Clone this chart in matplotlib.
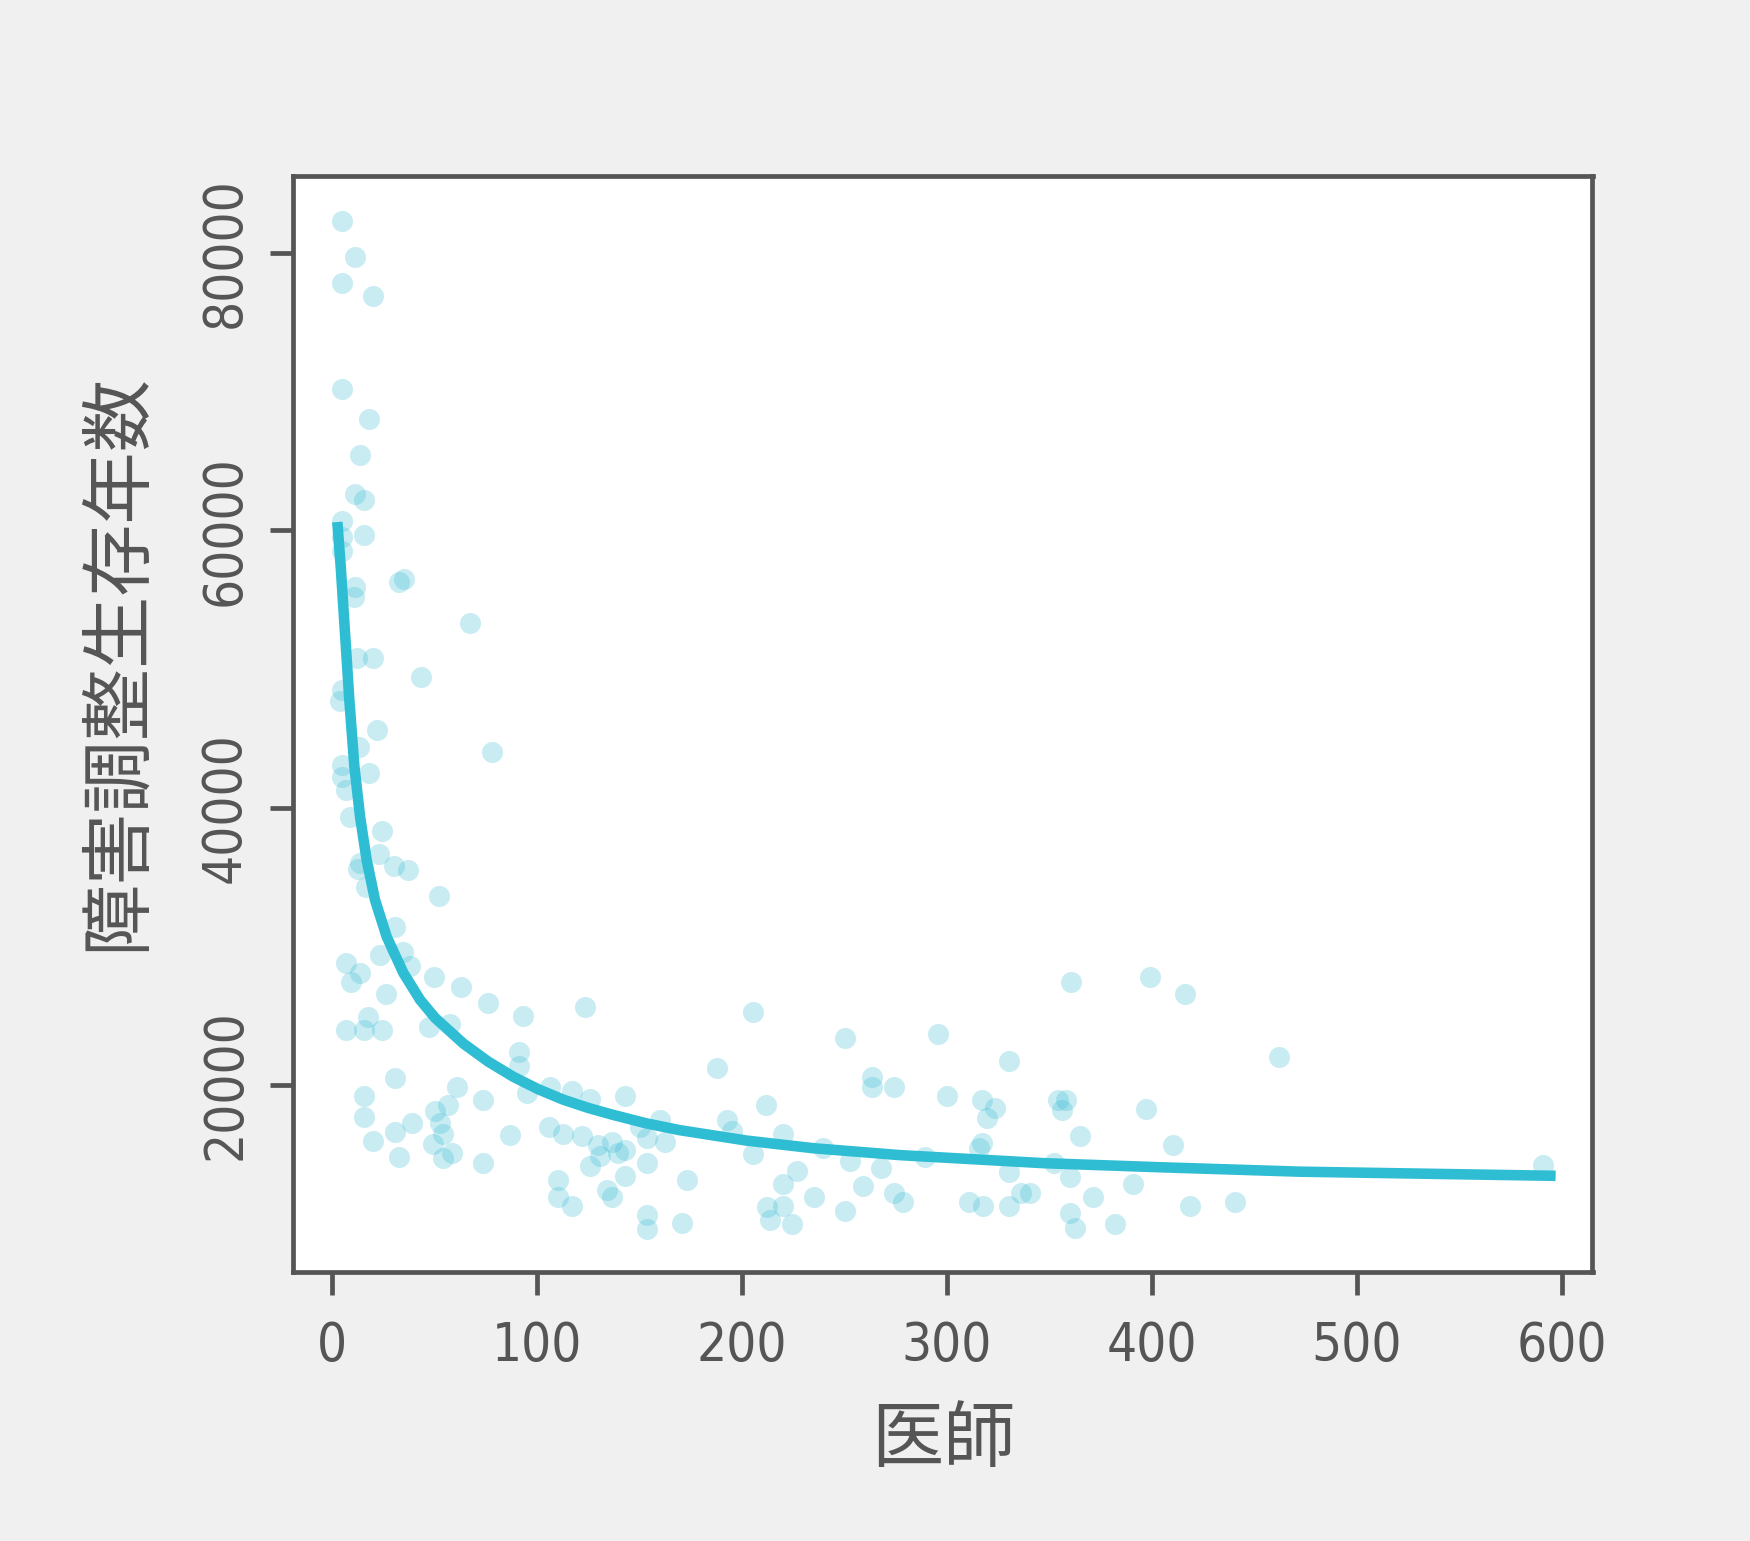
import matplotlib
matplotlib.use("Agg")
import matplotlib.pyplot as plt
from matplotlib import font_manager as fm

# scatter: physicians (x) vs disability-adjusted life years (y)
DOCTORS = [
    4.5, 11.0, 4.7, 19.8, 4.7, 17.7, 13.3, 11.0, 15.6, 4.7, 15.6, 4.5, 4.5, 11.0, 10.5,
    32.6, 34.9, 67.2, 11.9, 19.8,
    43.4, 4.5, 3.7, 21.9, 78.0, 13.1, 4.5, 17.7, 4.5, 6.5, 8.6, 24.1, 22.9, 13.5, 30.2,
    37.0, 12.6, 16.4, 52.0, 30.6, 34.6, 23.2, 37.9, 6.5, 13.5, 8.9, 49.7, 62.6, 26.2,
    75.8, 93.0, 123.1, 205.4, 17.5, 6.6, 15.4, 24.1, 47.1, 57.4, 90.9, 90.9, 187.9,
    30.6, 15.6, 60.7, 56.6, 73.7, 94.8, 106.2, 116.8, 125.7, 142.8, 211.6, 50.1, 15.6,
    39.0, 52.5, 30.6, 54.1, 86.7, 105.9, 112.7, 121.7, 150.1, 159.9, 162.3, 153.4,
    192.4, 194.9, 19.7, 49.2, 58.2, 54.1, 32.7, 73.7, 129.8, 130.6, 136.3, 142.8,
    139.5, 125.7, 142.8, 153.4, 110.3, 110.3, 116.8, 133.9, 136.3, 172.9, 153.4, 153.4,
    170.5, 205.4, 212.0, 213.6,
    220.1, 226.6, 220.1, 220.1, 224.2, 235.0, 239.5, 250.4, 252.6, 250.4, 259.2, 267.7,
    263.4, 263.4, 274.1, 274.1, 278.4, 289.2, 295.8, 299.9, 310.7, 317.6, 317.0, 323.6,
    319.5, 317.0, 315.8, 330.3, 330.3, 330.3, 336.3, 340.4, 354.0, 357.8, 355.9, 352.2,
    360.2, 360.6, 360.2, 362.4, 364.7, 371.2, 382.0, 390.8, 397.0, 399.2, 410.1, 416.2,
    418.8, 440.3, 461.8, 591.0,
]
DALYS = [
    82300, 79700, 77800, 76900, 70200, 68000, 65400, 62600, 62200, 60700, 59700, 59500,
    58500, 55900, 55200, 56300, 56500, 53300, 50800, 50800,
    49400, 48500, 47700, 45600, 44000, 44400, 43100, 42500, 42200, 41300, 39300, 38300,
    36700, 36000, 35800, 35500, 35600, 34300, 33600, 31400, 29600, 29400, 28600, 28800,
    28100, 27400, 27800, 27100, 26600, 25900, 25000, 25600, 25300, 24900, 24000, 23950,
    24000, 24200, 24400, 22400, 21400, 21200, 20500, 19200, 19900, 18600, 18900, 19400,
    19900, 19600, 19000, 19200, 18600, 18100, 17700, 17300, 17300, 16650, 16500, 16400,
    17000, 16500, 16300, 17000, 17450, 15900, 16200, 17450, 16700, 16000, 15750, 15100,
    14750, 14800, 14400, 15700, 14900, 15900, 15300, 15100, 14200, 13450, 14400, 13150,
    11900, 11250, 12450, 11900, 13150, 10600, 9600, 10050, 15000, 11200, 10300,
    16500, 13800, 12900, 11250, 10000, 11900, 15450, 23400, 14500, 10950, 12750, 14000,
    20600, 19900, 19850, 12200, 11550, 14800, 23650, 19200, 11550, 11250, 18950, 18350,
    17600, 15800, 15450, 21750, 13700, 11250, 12200, 12200, 18950, 18950, 18200, 14400,
    13400, 27450, 10750, 9700, 16350, 11900, 10000, 12900, 18250, 27800, 15700, 26550,
    11250, 11550, 22050, 14250,
]

# fitted curve
CURVE_X = [2.4, 4.05, 6.15, 8.25, 10.7, 13.5, 16.7, 20.8, 26.5, 34.6, 42.8, 50.1, 63.9,
           76.0, 88.3, 100.5, 112.7, 125.0, 137.1, 153.0, 169.6, 202.2, 234.7, 277.2,
           347.5, 403.5, 472.0, 597.0]
CURVE_Y = [60600, 57400, 52600, 47800, 43000, 39350, 36250, 33350, 30700, 28100, 26150,
           24850, 23000, 21700, 20600, 19700, 18950, 18350, 17850, 17250, 16750, 16000,
           15450, 14950, 14370, 14080, 13760, 13460]

X_TICKS = [0, 100, 200, 300, 400, 500, 600]
Y_TICKS = [20000, 40000, 60000, 80000]

GREY = "#555555"
CJK_FONT = ["Noto Sans CJK JP", "DejaVu Sans"]


def pick_tick_font():
    # narrow sans for the digits if one is around
    entries = fm.fontManager.ttflist
    for e in entries:
        if e.name == "Liberation Sans Narrow" and e.style == "normal" and e.weight in (400, "normal", "regular"):
            return fm.FontProperties(fname=e.fname)
    for e in entries:
        if e.name == "DejaVu Sans" and "condensed" in str(e.stretch) and e.style == "normal" \
                and e.weight in (400, "normal", "regular"):
            return fm.FontProperties(fname=e.fname)
    return fm.FontProperties(family="Roboto")


tick_fp = pick_tick_font()

fig = plt.figure(figsize=(17.5, 15.41), dpi=100, facecolor="#f0f0f0")
ax = fig.add_axes([0.1677, 0.1746, 0.7423, 0.7112])
ax.set_facecolor("white")

ax.scatter(DOCTORS, DALYS, s=230, color="#29b6d1", alpha=0.25, linewidths=0, zorder=2)
ax.plot(CURVE_X, CURVE_Y, color="#2ebdd3", lw=7.6, solid_capstyle="butt",
        solid_joinstyle="round", zorder=3)

ax.set_xlim(-19, 615)
ax.set_ylim(6530, 85550)
ax.set_xticks(X_TICKS)
ax.set_yticks(Y_TICKS)

for s in ax.spines.values():
    s.set_color(GREY)
    s.set_linewidth(3.4)

ax.tick_params(axis="both", direction="out", length=16.5, width=3.4, color=GREY,
               labelcolor=GREY)
ax.tick_params(axis="x", pad=18)
ax.tick_params(axis="y", pad=14, labelrotation=90)
for lab in ax.get_xticklabels() + ax.get_yticklabels():
    lab.set_fontproperties(tick_fp)
    lab.set_fontsize(38)
for lab in ax.get_yticklabels():
    lab.set_verticalalignment("center")

fig.text(0.539, 0.0655, "医師", family=CJK_FONT, fontsize=52, color=GREY,
         ha="center", va="center")
fig.text(0.0669, 0.5704, "障害調整生存年数", family=CJK_FONT, fontsize=52, color=GREY,
         rotation=90, ha="center", va="center")

fig.savefig("out.png", dpi=100, facecolor=fig.get_facecolor())
